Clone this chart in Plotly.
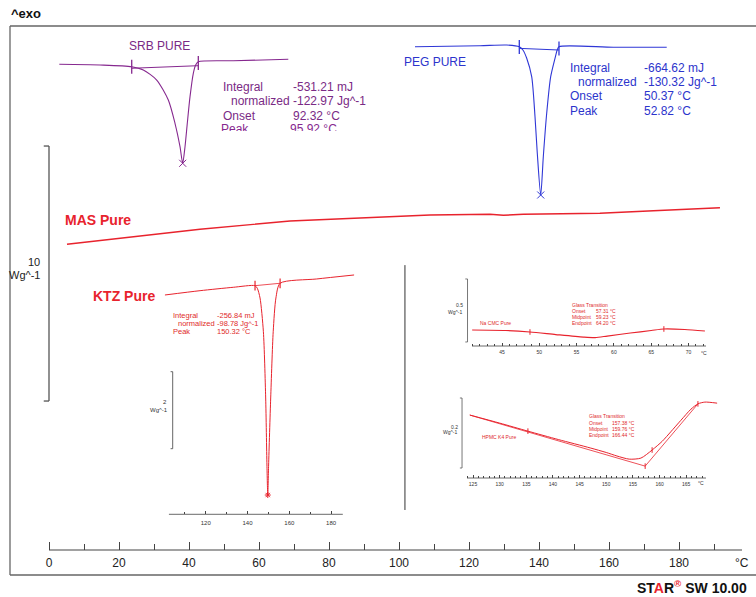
import plotly.graph_objects as go

W, H = 756, 597
FONT = "Liberation Sans, Arial, sans-serif"

PURPLE = "#86288f"
BLUE = "#2f37d6"
RED = "#e8232d"
IRED = "#e02a2a"
GREY = "#555555"

# ---------------- data ----------------
# main composite (x in degC of the main scale, y in W/g offset units)
srb_t = [2.94, 14.57, 23.63, 26.94, 30.77, 34.09, 36.0, 37.43, 38.2, 38.86, 39.51, 40.29, 41.23, 41.9, 42.66, 52.66, 68.37]
srb_y = [20.145, 20.118, 20.051, 19.922, 19.529, 18.745, 17.831, 16.914, 16.263, 16.914, 17.831, 18.875, 19.792, 20.12, 20.247, 20.286, 20.341]
srb_base_t = [23.63, 42.66]
srb_base_y = [19.99, 20.09]
srb_mark_t = [23.63, 42.66]
srb_mark_y = [20.05, 20.2]
srb_peak = (38.2, 16.263)

peg_t = [104.57, 123.14, 130.77, 134.37, 135.4, 136.49, 137.91, 138.86, 139.51, 140.49, 141.23, 142.2, 143.34, 144.57, 145.2, 145.71, 161.23, 176.49]
peg_y = [20.835, 20.875, 20.902, 20.835, 20.706, 20.38, 19.659, 18.09, 16.655, 15.02, 16.522, 18.224, 19.659, 20.38, 20.706, 20.835, 20.812, 20.812]
peg_base_t = [134.37, 145.71]
peg_base_y = [20.77, 20.706]
peg_mark_t = [134.37, 145.71]
peg_mark_y = [20.82, 20.76]
peg_peak = (140.49, 15.02)

mas_t = [5.14, 24.09, 43.14, 68.86, 94.57, 108.86, 126.0, 129.8, 135.5, 157.4, 172.7, 191.7]
mas_y = [13.086, 13.384, 13.675, 14.0, 14.145, 14.235, 14.263, 14.225, 14.263, 14.302, 14.404, 14.522]

main_ticks = [0, 20, 40, 60, 80, 100, 120, 140, 160, 180]
main_minor = [10, 30, 50, 70, 90, 110, 130, 150, 170, 190]

# KTZ inset
ktz_t = [100.5, 117.3, 133.2, 143.6, 144.7, 146.0, 147.6, 148.7, 149.3, 149.7, 150.1, 151.1, 152.3, 153.6, 155.6, 173.1, 191.0]
ktz_y = [-0.13, -0.018, 0.07, 0.112, 0.044, -0.208, -1.083, -2.805, -4.545, -5.325, -4.545, -2.805, -1.083, -0.208, 0.174, 0.286, 0.39]
ktz_base_t = [143.6, 155.6]
ktz_base_y = [0.112, 0.174]
ktz_peak = (149.7, -5.325)
ktz_ticks = [120, 140, 160, 180]
ktz_minor = [110, 130, 150, 170]

# Na CMC inset
cmc_t = [41.0, 45.5, 48.75, 52.2, 55.9, 57.5, 59.1, 62.2, 65.0, 66.7, 69.5, 72.2]
cmc_y = [0.0, -0.004, -0.016, -0.036, -0.056, -0.060, -0.048, -0.024, -0.004, 0.008, 0.004, -0.008]
cmc_mark_t = [48.75, 66.7]
cmc_mark_y = [-0.016, 0.008]
cmc_ticks = [45, 50, 55, 60, 65, 70]
cmc_minor = list(range(41, 73))

# HPMC inset
hpmc_t = [124.4, 130, 135.3, 141, 147, 150, 152, 154.3, 156.5, 158.6, 160.5, 162.1, 164, 165.9, 167.2, 168.5, 170.8]
hpmc_y = [-0.043, -0.066, -0.089, -0.113, -0.137, -0.150, -0.160, -0.169, -0.166, -0.143, -0.118, -0.091, -0.058, -0.026, -0.011, -0.006, -0.009]
hpmc_base_t = [124.4, 157.3]
hpmc_base_y = [-0.043, -0.189]
hpmc_tan_t = [157.3, 167.2]
hpmc_tan_y = [-0.189, -0.011]
hpmc_mark_t = [135.3, 157.3, 158.6, 167.2]
hpmc_mark_y = [-0.089, -0.189, -0.143, -0.011]
hpmc_ticks = [125, 130, 135, 140, 145, 150, 155, 160, 165]
hpmc_minor = list(range(124, 169))


def px(x):
    return x / W


def py(y):
    return 1 - y / H


fig = go.Figure()


def line(x, y, color, width=1.0, xa="x", ya="y", shape="linear", dash=None):
    fig.add_trace(go.Scatter(x=x, y=y, mode="lines", xaxis=xa, yaxis=ya,
                             line=dict(color=color, width=width, shape=shape,
                                       smoothing=0.7 if shape == "spline" else None,
                                       dash=dash),
                             hoverinfo="skip"))


def marks(x, y, color, symbol, size, xa="x", ya="y", lw=1.0):
    fig.add_trace(go.Scatter(x=x, y=y, mode="markers", xaxis=xa, yaxis=ya,
                             marker=dict(symbol=symbol, size=size, color=color,
                                         line=dict(color=color, width=lw)),
                             hoverinfo="skip"))


# SRB
line(srb_t, srb_y, PURPLE, 1.1, shape="spline")
line(srb_base_t, srb_base_y, PURPLE, 1.0)
marks(srb_mark_t, srb_mark_y, PURPLE, "line-ns", 10, lw=1.3)
marks([srb_peak[0]], [srb_peak[1]], PURPLE, "x-thin", 7)
# PEG
line(peg_t, peg_y, BLUE, 1.1, shape="spline")
line(peg_base_t, peg_base_y, BLUE, 1.0)
marks(peg_mark_t, peg_mark_y, BLUE, "line-ns", 10, lw=1.3)
marks([peg_peak[0]], [peg_peak[1]], BLUE, "x-thin", 7)
# MAS
line(mas_t, mas_y, RED, 1.4)
# KTZ
line(ktz_t, ktz_y, RED, 1.0, xa="x2", ya="y2", shape="spline")
line(ktz_base_t, ktz_base_y, RED, 0.8, xa="x2", ya="y2")
marks(ktz_base_t, ktz_base_y, RED, "line-ns", 7, xa="x2", ya="y2", lw=1.2)
marks([ktz_peak[0]], [ktz_peak[1]], RED, "asterisk-open", 5, xa="x2", ya="y2")
# CMC
line(cmc_t, cmc_y, RED, 1.2, xa="x3", ya="y3", shape="spline")
marks(cmc_mark_t, cmc_mark_y, RED, "line-ns", 4, xa="x3", ya="y3")
# HPMC
line(hpmc_t, hpmc_y, RED, 1.0, xa="x4", ya="y4", shape="spline")
line(hpmc_base_t, hpmc_base_y, RED, 0.8, xa="x4", ya="y4")
line(hpmc_tan_t, hpmc_tan_y, RED, 0.8, xa="x4", ya="y4")
marks(hpmc_mark_t, hpmc_mark_y, RED, "line-ns", 4, xa="x4", ya="y4")

# SRB "Peak" row (partially hidden by the pasted image edge)
fig.add_trace(go.Scatter(x=[49.14, 68.86], y=[17.55, 17.55], mode="text",
                         text=["Peak", "95.92 °C"], textposition="middle right",
                         textfont=dict(family=FONT, size=12, color=PURPLE),
                         xaxis="x", yaxis="y", cliponaxis=False, hoverinfo="skip"))

TICKC = "#444"


def inset_x(dom, rng, ticks, minor, size, standoff, len_major=3, len_minor=2, anchor="y"):
    return dict(domain=dom, range=rng, anchor=anchor, showline=False, showgrid=False,
                zeroline=False, tickmode="array", tickvals=ticks, ticks="inside",
                ticklen=len_major, tickwidth=0.8, tickcolor=TICKC,
                tickfont=dict(family=FONT, size=size, color="#333"),
                ticklabelstandoff=standoff,
                minor=dict(tickmode="array", tickvals=minor, ticks="inside",
                           ticklen=len_minor, tickwidth=0.7, tickcolor=TICKC),
                fixedrange=True)


def hidden_y(dom, rng, anchor):
    return dict(domain=dom, range=rng, anchor=anchor, visible=False, fixedrange=True)


layout = dict(
    width=W, height=H, margin=dict(l=0, r=0, t=0, b=0),
    paper_bgcolor="white", plot_bgcolor="rgba(0,0,0,0)", showlegend=False,
    font=dict(family=FONT),
    xaxis=dict(domain=[px(10), 1], range=[-11.143, 202], anchor="y", showline=False,
               showgrid=False, zeroline=False, tickmode="array", tickvals=main_ticks,
               ticks="inside", ticklen=8, tickwidth=1, tickcolor=TICKC,
               tickfont=dict(family=FONT, size=12, color="#222"), ticklabelstandoff=4,
               minor=dict(tickmode="array", tickvals=main_minor, ticks="inside",
                          ticklen=6, tickwidth=1, tickcolor=TICKC),
               fixedrange=True),
    yaxis=hidden_y([py(550), py(26)], [1.098, 21.647], "x"),
    xaxis2=inset_x([px(160), px(360)], [98.13, 193.83], ktz_ticks, ktz_minor, 6, 4,
                   anchor="y2"),
    yaxis2=hidden_y([py(514), py(270)], [-5.818, 0.519], "x2"),
    xaxis3=inset_x([px(460), px(712)], [39.37, 73.15], cmc_ticks, cmc_minor, 5, 2,
                   anchor="y3"),
    yaxis3=hidden_y([py(346), py(275)], [-0.127, 0.4365], "x3"),
    xaxis4=inset_x([px(455), px(720)], [121.62, 171.34], hpmc_ticks, hpmc_minor, 5, 2,
                   anchor="y4"),
    yaxis4=hidden_y([py(478), py(392)], [-0.2229, 0.02286], "x4"),
)
fig.update_layout(**layout)

shapes = []


def seg(x0, y0, x1, y1, xref, yref, color=GREY, width=1.0):
    shapes.append(dict(type="line", x0=x0, y0=y0, x1=x1, y1=y1, xref=xref, yref=yref,
                       line=dict(color=color, width=width)))


# frame
seg(px(10), py(26), 1, py(26), "paper", "paper", "#666", 1.3)
seg(px(10), py(26), px(10), py(575), "paper", "paper", "#666", 1.3)
seg(px(10), py(575), 1, py(575), "paper", "paper", "#666", 1.3)
# axis lines
seg(0, py(550), 198, py(550), "x", "paper", TICKC, 1.2)
seg(102.4, py(514.3), 185.6, py(514.3), "x2", "paper", TICKC, 0.8)
seg(40.98, py(346), 72.35, py(346), "x3", "paper", TICKC, 0.8)
seg(123.87, py(478), 168.71, py(478), "x4", "paper", TICKC, 0.8)


# scale bars
def bracket(x, y0, y1, cap, xr, yr, width):
    seg(x, y0, x, y1, xr, yr, GREY, width)
    seg(x - cap, y0, x, y0, xr, yr, GREY, width)
    seg(x - cap, y1, x, y1, xr, yr, GREY, width)


bracket(0, 6.94, 16.94, 1.5, "x", "y", 1.3)
bracket(104.2, -2.122, -4.122, 1.0, "x2", "y2", 0.9)
bracket(40.38, 0.405, -0.095, 0.3, "x3", "y3", 0.8)
bracket(122.94, 0.00571, -0.1943, 0.4, "x4", "y4", 0.8)
# divider between pasted panels
seg(101.7, 2.667, 101.7, 12.27, "x", "y", "#333", 1.0)
# white edge of pasted SRB image that clips the "Peak" row
shapes.append(dict(type="rect", x0=px(212), x1=px(370), y0=py(131.0), y1=py(141),
                   xref="paper", yref="paper", fillcolor="white", line=dict(width=0),
                   layer="above"))
fig.update_layout(shapes=shapes)

ann = []


def txt(s, x, y, size, color, anchor="left", bold=False):
    ann.append(dict(text=("<b>%s</b>" % s) if bold else s, x=px(x), y=py(y),
                    xref="paper", yref="paper", xanchor=anchor, yanchor="middle",
                    showarrow=False, font=dict(family=FONT, size=size, color=color)))


txt("^exo", 9, 13, 13, "#111", bold=True)
txt("<b>ST<span style='color:#e8232d'>A</span>R<sup><span style='color:#e8232d'>®</span></sup> SW 10.00</b>",
    749, 587, 14, "#111", anchor="right")

# SRB
SRBC = "#7a2a85"
txt("SRB PURE", 126.5, 45.5, 12, SRBC)
txt("Integral", 221, 87.5, 12, SRBC)
txt("normalized", 228.5, 101.5, 12, SRBC)
txt("Onset", 221, 115.5, 12, SRBC)
txt("-531.21 mJ", 291, 87.5, 12, SRBC)
txt("-122.97 Jg^-1", 291, 101.5, 12, SRBC)
txt("92.32 °C", 291, 115.5, 12, SRBC)
# PEG
PEGC = "#2c34cc"
txt("PEG PURE", 401.5, 62.5, 12, PEGC)
txt("Integral", 568, 67.5, 12, PEGC)
txt("normalized", 576, 82, 12, PEGC)
txt("Onset", 568, 96.5, 12, PEGC)
txt("Peak", 568, 110.5, 12, PEGC)
txt("-664.62 mJ", 641.5, 67.5, 12, PEGC)
txt("-130.32 Jg^-1", 641.5, 82, 12, PEGC)
txt("50.37 °C", 641.5, 96.5, 12, PEGC)
txt("52.82 °C", 641.5, 110.5, 12, PEGC)
# big labels
txt("MAS Pure", 63, 220, 14, RED, bold=True)
txt("KTZ Pure", 90.5, 296, 14, RED, bold=True)
# main scale bar
txt("10", 41.5, 262, 11, "#222", anchor="right")
txt("Wg^-1", 41.5, 275, 11, "#222", anchor="right")
txt("°C", 742, 563, 12, "#222", anchor="center")
# KTZ inset
txt("Integral", 171, 315, 7.5, IRED)
txt("normalized", 176, 323.3, 7.5, IRED)
txt("Peak", 171, 331.7, 7.5, IRED)
txt("-256.84 mJ", 215, 315, 7.5, IRED)
txt("-98.78 Jg^-1", 215, 323.3, 7.5, IRED)
txt("150.32 °C", 215, 331.7, 7.5, IRED)
txt("2", 169, 401.5, 6, "#333", anchor="right")
txt("Wg^-1", 169.5, 410, 6, "#333", anchor="right")
# CMC inset
txt("0.5", 465, 305, 5, "#333", anchor="right")
txt("Wg^-1", 465, 312, 5, "#333", anchor="right")
txt("Na CMC Pure", 478, 323, 5, IRED)
txt("Glass Transition", 570, 305, 5, IRED)
txt("Onset", 570, 311, 5, IRED)
txt("Midpoint", 570, 317, 5, IRED)
txt("Endpoint", 570, 323.3, 5, IRED)
txt("57.31 °C", 593.5, 311, 5, IRED)
txt("59.23 °C", 593.5, 317, 5, IRED)
txt("64.20 °C", 593.5, 323.3, 5, IRED)
txt("°C", 704, 353, 5, "#333", anchor="center")
# HPMC inset
txt("0.2", 460, 427, 5, "#333", anchor="right")
txt("Wg^-1", 460, 432, 5, "#333", anchor="right")
txt("HPMC K4 Pure", 480, 436.5, 5, IRED)
txt("Glass Transition", 586.5, 416.4, 5, IRED)
txt("Onset", 586.5, 422.5, 5, IRED)
txt("Midpoint", 586.5, 428.9, 5, IRED)
txt("Endpoint", 586.5, 435, 5, IRED)
txt("157.38 °C", 609.5, 422.5, 5, IRED)
txt("159.76 °C", 609.5, 428.9, 5, IRED)
txt("166.44 °C", 609.5, 435, 5, IRED)
txt("°C", 701, 483, 5, "#333", anchor="center")

fig.update_layout(annotations=ann)
fig.write_html("out.html")
